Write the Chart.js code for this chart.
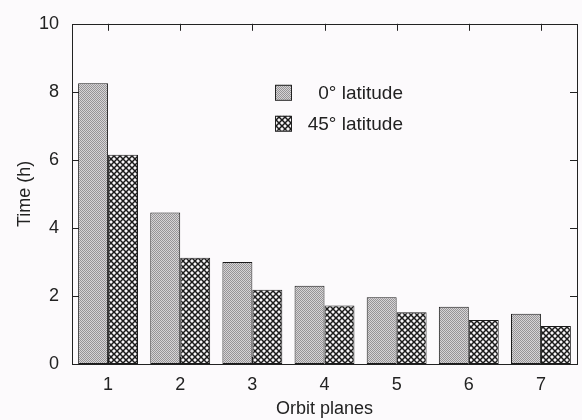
<!DOCTYPE html>
<html>
<head>
<meta charset="utf-8">
<script src="https://cdn.jsdelivr.net/npm/chart.js@4/dist/chart.umd.min.js"></script>
<style>
  html, body { margin: 0; padding: 0; background: #fcfafc; }
  #wrap { width: 582px; height: 420px; }
</style>
</head>
<body>
<div id="wrap"><canvas id="chart" width="582" height="420"></canvas></div>
<script>
const categories = ['1', '2', '3', '4', '5', '6', '7'];
const lat0 = [8.25, 4.45, 3.0, 2.3, 1.96, 1.68, 1.48];
const lat45 = [6.15, 3.12, 2.18, 1.72, 1.52, 1.29, 1.12];
const seriesLabels = ['0\u00b0 latitude', '45\u00b0 latitude'];
const yTicks = [0, 2, 4, 6, 8, 10];

const ink = '#222';
const font = 'Liberation Sans, Arial, Helvetica, sans-serif';

// fine grey stipple
function stipple() {
    const c = document.createElement('canvas');
    c.width = 2; c.height = 2;
    const g = c.getContext('2d');
    g.fillStyle = '#d6d4d6';
    g.fillRect(0, 0, 2, 2);
    g.fillStyle = '#969496';
    g.fillRect(0, 0, 1, 1);
    g.fillRect(1, 1, 1, 1);
    return g.createPattern(c, 'repeat');
}

// black diagonal lattice with white holes
function crosshatch() {
    const c = document.createElement('canvas');
    c.width = 6; c.height = 6;
    const g = c.getContext('2d');
    g.fillStyle = '#f6f4f6';
    g.fillRect(0, 0, 6, 6);
    g.strokeStyle = '#1a1a1a';
    g.lineWidth = 1.5;
    g.beginPath();
    g.moveTo(-1, -1); g.lineTo(7, 7);
    g.moveTo(-1, 7); g.lineTo(7, -1);
    g.stroke();
    return g.createPattern(c, 'repeat');
}

const fills = [stipple(), crosshatch()];

const frame = {
    id: 'frame',
    beforeDatasetsDraw(chart) {
        const { ctx, chartArea: a, scales: { x, y } } = chart;
        ctx.save();
        ctx.strokeStyle = ink;
        ctx.lineWidth = 1;
        ctx.beginPath();
        yTicks.forEach(v => {
            const py = Math.round(y.getPixelForValue(v)) + 0.5;
            ctx.moveTo(a.left, py); ctx.lineTo(a.left + 7, py);
            ctx.moveTo(a.right, py); ctx.lineTo(a.right - 7, py);
        });
        categories.forEach((c, i) => {
            const px = Math.round(x.getPixelForValue(i)) + 0.5;
            ctx.moveTo(px, a.top); ctx.lineTo(px, a.top + 7);
            ctx.moveTo(px, a.bottom); ctx.lineTo(px, a.bottom - 7);
        });
        ctx.stroke();
        ctx.restore();
    },
    afterDatasetsDraw(chart) {
        const { ctx, chartArea: a } = chart;
        ctx.save();
        ctx.strokeStyle = ink;
        ctx.lineWidth = 1;
        ctx.strokeRect(Math.round(a.left) + 0.5, Math.round(a.top) + 0.5,
            Math.round(a.right - a.left), Math.round(a.bottom - a.top));

        // legend
        ctx.font = '19px ' + font;
        ctx.textAlign = 'right';
        ctx.textBaseline = 'middle';
        seriesLabels.forEach((s, i) => {
            const bx = a.left + 203, by = a.top + 61 + i * 31;
            ctx.fillStyle = fills[i];
            ctx.fillRect(bx, by, 16, 15);
            ctx.strokeRect(bx + 0.5, by + 0.5, 16, 15);
            ctx.fillStyle = ink;
            ctx.fillText(s, a.left + 331, by + 9);
        });
        ctx.restore();
    }
};

new Chart(document.getElementById('chart'), {
    type: 'bar',
    data: {
        labels: categories,
        datasets: [
            { label: seriesLabels[0], data: lat0, backgroundColor: fills[0], borderColor: '#1a1a1a', borderWidth: 1, borderSkipped: false },
            { label: seriesLabels[1], data: lat45, backgroundColor: fills[1], borderColor: '#1a1a1a', borderWidth: 1, borderSkipped: false }
        ]
    },
    options: {
        responsive: false,
        animation: false,
        events: [],
        layout: { padding: { top: 21, right: 5, left: 0, bottom: 0 } },
        datasets: { bar: { categoryPercentage: 0.83, barPercentage: 1 } },
        plugins: { legend: { display: false }, tooltip: { enabled: false } },
        scales: {
            x: {
                grid: { display: false, drawTicks: false },
                border: { display: false },
                ticks: { color: ink, font: { family: font, size: 18 }, padding: 10 },
                title: { display: true, text: 'Orbit planes', color: ink, font: { family: font, size: 18 }, padding: { top: 2, bottom: 0 } },
                afterFit(s) { s.height = 56; }
            },
            y: {
                min: 0, max: 10,
                afterBuildTicks(s) { s.ticks = yTicks.map(v => ({ value: v })); },
                grid: { display: false, drawTicks: false },
                border: { display: false },
                ticks: { color: ink, font: { family: font, size: 18 }, padding: 13 },
                title: { display: true, text: 'Time (h)', color: ink, font: { family: font, size: 18 }, padding: { top: 14, bottom: 0 } },
                afterFit(s) { s.width = 72; }
            }
        }
    },
    plugins: [frame]
});
</script>
</body>
</html>
